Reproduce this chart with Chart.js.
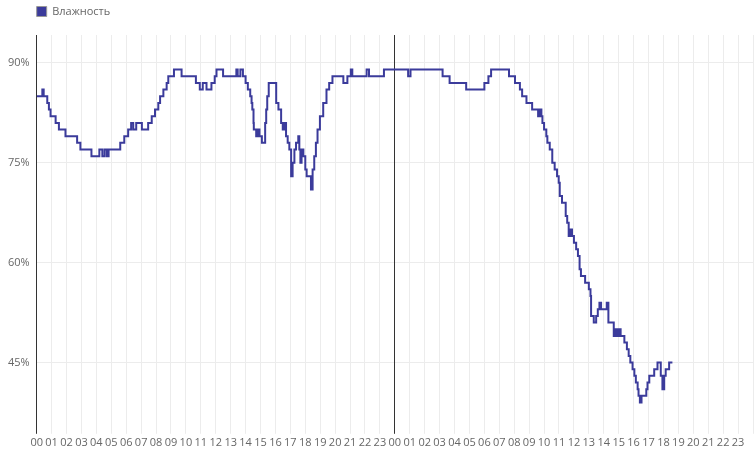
<!DOCTYPE html>
<html>
<head>
<meta charset="utf-8">
<script src="https://cdn.jsdelivr.net/npm/chart.js@4/dist/chart.umd.min.js"></script>
<style>
  html, body { margin: 0; padding: 0; background: #fff; }
  #wrap { width: 755px; height: 451px; }
</style>
</head>
<body>
<div id="wrap"><canvas id="humidityChart"></canvas></div>
<script>
// Data (hours since start of first day, humidity %)
const seriesLabel = 'Влажность';
const hours = [
  0.00, 0.38, 0.47, 0.71, 0.82, 0.93, 1.05, 1.27, 1.49, 1.93, 2.71, 2.93, 3.67, 4.20, 4.40, 4.55,
  4.70, 4.82, 5.60, 5.87, 6.13, 6.33, 6.47, 6.67, 7.05, 7.47, 7.71, 7.93, 8.15, 8.27, 8.49, 8.71,
  8.82, 9.20, 9.71, 10.67, 10.93, 11.13, 11.38, 11.71, 11.93, 12.05, 12.49, 13.38, 13.47, 13.65, 13.82, 14.00,
  14.15, 14.31, 14.40, 14.45, 14.53, 14.55, 14.71, 14.82, 14.93, 15.09, 15.31, 15.38, 15.45, 15.55, 16.05, 16.20,
  16.38, 16.49, 16.60, 16.71, 16.82, 16.93, 17.05, 17.15, 17.27, 17.38, 17.53, 17.60, 17.67, 17.75, 17.87, 18.00,
  18.09, 18.38, 18.49, 18.60, 18.71, 18.82, 18.98, 19.20, 19.42, 19.60, 19.82, 20.55, 20.82, 21.05, 21.15, 22.11,
  22.27, 23.27, 24.89, 25.05, 27.20, 27.67, 28.78, 30.00, 30.27, 30.45, 31.65, 32.05, 32.38, 32.53, 32.82, 33.20,
  33.60, 33.71, 33.82, 33.89, 34.00, 34.15, 34.22, 34.38, 34.55, 34.71, 34.87, 34.98, 35.05, 35.20, 35.45, 35.55,
  35.65, 35.78, 35.87, 36.00, 36.15, 36.27, 36.38, 36.47, 36.75, 37.00, 37.11, 37.15, 37.33, 37.49, 37.60, 37.71,
  37.82, 38.20, 38.31, 38.67, 38.78, 38.87, 39.00, 39.13, 39.38, 39.55, 39.67, 39.78, 39.93, 40.05, 40.15, 40.27,
  40.33, 40.42, 40.53, 40.85, 40.93, 41.05, 41.38, 41.60, 41.82, 41.93, 42.05, 42.15, 42.38, 42.60
];
const humidity = [
  85, 86, 85, 84, 83, 82, 82, 81, 80, 79, 78, 77, 76, 77, 76, 77,
  76, 77, 78, 79, 80, 81, 80, 81, 80, 81, 82, 83, 84, 85, 86, 87,
  88, 89, 88, 87, 86, 87, 86, 87, 88, 89, 88, 89, 88, 89, 88, 87,
  86, 85, 84, 83, 81, 80, 79, 80, 79, 78, 81, 83, 85, 87, 84, 83,
  81, 80, 81, 79, 78, 77, 73, 75, 77, 78, 79, 77, 75, 77, 76, 74,
  73, 71, 74, 76, 78, 80, 82, 84, 86, 87, 88, 87, 88, 89, 88, 89,
  88, 89, 88, 89, 88, 87, 86, 87, 88, 89, 88, 87, 86, 85, 84, 83,
  82, 83, 82, 81, 80, 79, 78, 77, 75, 74, 73, 72, 70, 69, 67, 66,
  64, 65, 64, 63, 62, 61, 59, 58, 57, 56, 55, 52, 51, 52, 53, 54,
  53, 54, 51, 49, 50, 49, 50, 49, 48, 47, 46, 45, 44, 43, 42, 41,
  40, 39, 40, 41, 42, 43, 44, 45, 43, 41, 43, 44, 45, 45
];
const yTicks = [45, 60, 75, 90];
const hourLabels = Array.from({ length: 24 }, (_, h) => String(h).padStart(2, '0'));

const points = hours.map((h, i) => ({ x: h, y: humidity[i] }));

const LINE_COLOR = 'rgb(59, 59, 155)';
const TEXT_COLOR = '#666';
const GRID_COLOR = '#ececec';
const DAY_COLOR = '#333';

// legend sits over the plot's left edge and leaves a bit of room below it
const legendTweak = {
  id: 'legendTweak',
  beforeInit(chart) {
    const fit = chart.legend.fit;
    chart.legend.fit = function () {
      fit.bind(chart.legend)();
      this.height += 8;
    };
  },
  afterLayout(chart) {
    const legend = chart.legend;
    const pad = legend.options.labels.padding;
    const shift = chart.chartArea.left - (legend.left + pad);
    legend.left += shift;
    legend.right += shift;
  }
};

new Chart(document.getElementById('humidityChart'), {
  type: 'line',
  data: {
    datasets: [{
      label: seriesLabel,
      data: points,
      borderColor: LINE_COLOR,
      backgroundColor: LINE_COLOR,
      borderWidth: 2,
      pointRadius: 0,
      stepped: true,
      fill: false
    }]
  },
  options: {
    responsive: true,
    maintainAspectRatio: false,
    animation: false,
    layout: { padding: { left: 1, right: 0, top: 0, bottom: 0 } },
    plugins: {
      legend: {
        position: 'top',
        align: 'start',
        labels: {
          boxWidth: 10,
          boxHeight: 10,
          padding: 6,
          color: TEXT_COLOR,
          font: { family: 'Open Sans', size: 11 },
          generateLabels(chart) {
            return [{
              text: seriesLabel,
              fillStyle: LINE_COLOR,
              strokeStyle: '#999',
              lineWidth: 1,
              fontColor: TEXT_COLOR,
              datasetIndex: 0
            }];
          }
        }
      },
      tooltip: { enabled: false }
    },
    scales: {
      x: {
        type: 'linear',
        min: 0,
        max: 48,
        border: { display: false },
        grid: {
          color: (c) => (c.tick && (c.tick.value === 0 || c.tick.value === 24)) ? DAY_COLOR : GRID_COLOR,
          tickLength: 8
        },
        ticks: {
          stepSize: 1,
          autoSkip: false,
          maxRotation: 0,
          padding: 2,
          color: TEXT_COLOR,
          font: { family: 'Open Sans', size: 11 },
          callback: (v) => v >= 48 ? '' : hourLabels[v % 24]
        }
      },
      y: {
        min: 35.5,
        max: 94.2,
        border: { display: true, color: DAY_COLOR },
        afterBuildTicks: (scale) => { scale.ticks = yTicks.map(v => ({ value: v })); },
        grid: { color: GRID_COLOR, drawTicks: false, z: -2 },
        ticks: {
          padding: 7,
          color: TEXT_COLOR,
          font: { family: 'Open Sans', size: 11 },
          callback: (v) => v + '%'
        }
      }
    }
  },
  plugins: [legendTweak]
});
</script>
</body>
</html>
